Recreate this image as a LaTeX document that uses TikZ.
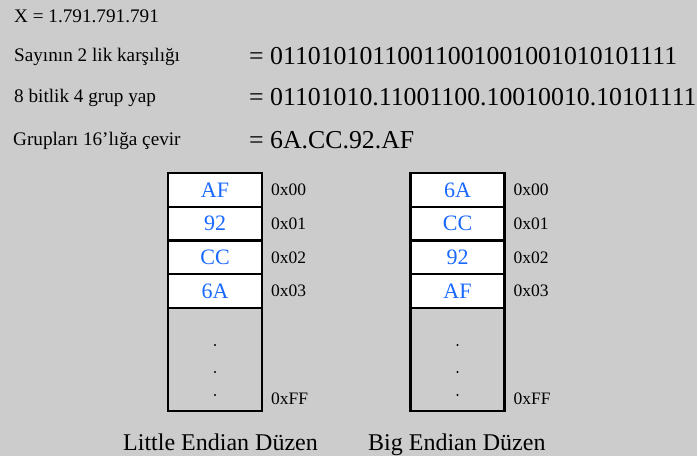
\documentclass[tikz,border=0pt]{standalone}
\usepackage{fontspec}
\setmainfont{Liberation Serif}
\newfontfamily\timesfont{Liberation Serif}
\usepackage{tikz}
\usetikzlibrary{positioning,calc}
\definecolor{bggray}{RGB}{204,204,204}
\definecolor{cellblue}{RGB}{25,105,255}
\tikzset{
  txt/.style={anchor=base west,inner sep=0pt,font=\timesfont\fontsize{19.2}{19.2}\selectfont},
  bigtxt/.style={anchor=base west,inner sep=0pt,font=\timesfont\fontsize{25.8}{25.8}\selectfont},
  cell/.style={rectangle,draw,line width=2.4pt,fill=white,text=cellblue,minimum width=94pt,minimum height=33.75pt,inner sep=0pt,outer sep=0pt,font=\timesfont\fontsize{22}{22}\selectfont},
  rest/.style={rectangle,draw,line width=2.4pt,fill=bggray,minimum width=94pt,minimum height=103pt,inner sep=0pt,outer sep=0pt},
  frame/.style={draw,line width=2.8pt},
  addr/.style={anchor=west,inner sep=0pt,font=\timesfont\fontsize{17.5}{17.5}\selectfont},
  caption/.style={anchor=base west,inner sep=0pt,font=\timesfont\fontsize{24}{24}\selectfont},
  memdot/.style={fill=black}
}

\begin{document}
\begin{tikzpicture}[x=1pt,y=1pt]
  \fill[bggray] (0,0) rectangle (697,456);
  \useasboundingbox (0,0) rectangle (697,456);
  % steps of the conversion
  \node[txt] (Sayi) at (14,433) {X = 1.791.791.791};
  \node[txt] (Ikilik) at (14,394) {Sayının 2 lik karşılığı};
  \node[txt] (Grup) at (14,353) {8 bitlik 4 grup yap};
  \node[txt] (Onalti) at (13,310) {Grupları 16’lığa çevir};
  \node[bigtxt] (IkilikVal) at (249,391) {= 01101010110011001001001010101111};
  \node[bigtxt] (GrupVal) at (249,350) {= 01101010.11001100.10010010.10101111};
  \node[bigtxt] (OnaltiVal) at (249,307) {= 6A.CC.92.AF};
  % little endian memory
  \node[cell] (L0) at (215,266.125) {AF};
  \node[cell,below=0pt of L0] (L1) {92};
  \node[cell,below=0pt of L1] (L2) {CC};
  \node[cell,below=0pt of L2] (L3) {6A};
  \node[rest,below=0pt of L3] (Lrest) {};
  \draw[frame] (L0.north west) rectangle (Lrest.south east);
  \fill[memdot] ($(Lrest.center)+(0,14.5)$) circle (1.2);
  \fill[memdot] ($(Lrest.center)+(0,-12.5)$) circle (1.2);
  \fill[memdot] ($(Lrest.center)+(0,-35.5)$) circle (1.2);
  \node[addr,right=9pt of L0.east] (LA0) {0x00};
  \node[addr,right=9pt of L1.east] (LA1) {0x01};
  \node[addr,right=9pt of L2.east] (LA2) {0x02};
  \node[addr,right=9pt of L3.east] (LA3) {0x03};
  \node[addr] (LAFF) at ($(Lrest.south east)+(9,12)$) {0xFF};
  \node[caption] (Little) at (123,6) {Little Endian Düzen};
  % big endian memory
  \node[cell] (B0) at (457.5,266.125) {6A};
  \node[cell,below=0pt of B0] (B1) {CC};
  \node[cell,below=0pt of B1] (B2) {92};
  \node[cell,below=0pt of B2] (B3) {AF};
  \node[rest,below=0pt of B3] (Brest) {};
  \draw[frame] (B0.north west) rectangle (Brest.south east);
  \fill[memdot] ($(Brest.center)+(0,14.5)$) circle (1.2);
  \fill[memdot] ($(Brest.center)+(0,-12.5)$) circle (1.2);
  \fill[memdot] ($(Brest.center)+(0,-35.5)$) circle (1.2);
  \node[addr,right=9pt of B0.east] (BA0) {0x00};
  \node[addr,right=9pt of B1.east] (BA1) {0x01};
  \node[addr,right=9pt of B2.east] (BA2) {0x02};
  \node[addr,right=9pt of B3.east] (BA3) {0x03};
  \node[addr] (BAFF) at ($(Brest.south east)+(9,12)$) {0xFF};
  \node[caption] (Big) at (368,6) {Big Endian Düzen};
\end{tikzpicture}
\end{document}
